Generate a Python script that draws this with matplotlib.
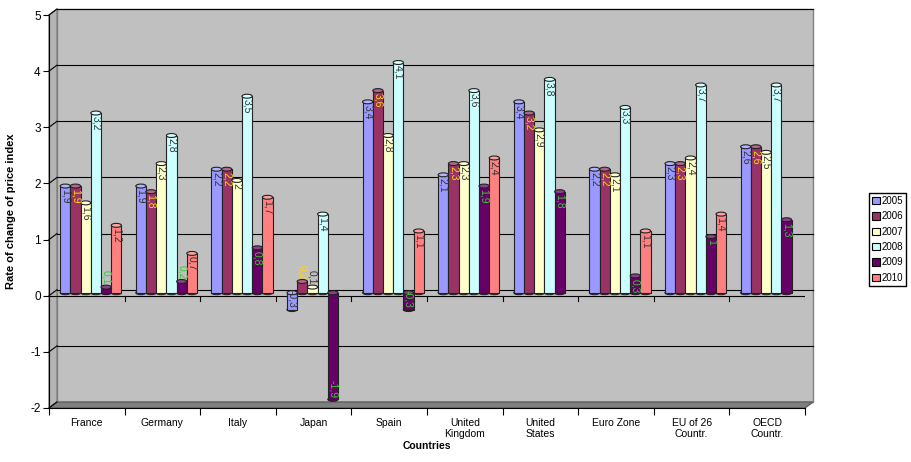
import numpy as np
import matplotlib
matplotlib.use('Agg')
import matplotlib.pyplot as plt
from matplotlib.patches import Polygon, Ellipse, Patch
from matplotlib.transforms import Affine2D, IdentityTransform
import matplotlib.colors as mcolors

plt.rcParams['font.family'] = ['Liberation Sans', 'DejaVu Sans']
plt.rcParams['axes.unicode_minus'] = False

# data
countries = ['France', 'Germany', 'Italy', 'Japan', 'Spain', 'United\nKingdom',
             'United\nStates', 'Euro Zone', 'EU of 26\nCountr.', 'OECD\nCountr.']
years = ['2005', '2006', '2007', '2008', '2009', '2010']
v2005 = [1.9, 1.9, 2.2, -0.3, 3.4, 2.1, 3.4, 2.2, 2.3, 2.6]
v2006 = [1.9, 1.8, 2.2, 0.2, 3.6, 2.3, 3.2, 2.2, 2.3, 2.6]
v2007 = [1.6, 2.3, 2.0, 0.1, 2.8, 2.3, 2.9, 2.1, 2.4, 2.5]
v2008 = [3.2, 2.8, 3.5, 1.4, 4.1, 3.6, 3.8, 3.3, 3.7, 3.7]
v2009 = [0.1, 0.2, 0.8, -1.9, -0.3, 1.9, 1.8, 0.3, 1.0, 1.3]
v2010 = [1.2, 0.7, 1.7, np.nan, 1.1, 2.4, np.nan, 1.1, 1.4, np.nan]
series = [v2005, v2006, v2007, v2008, v2009, v2010]

colors = ['#9999FF', '#993366', '#FFFFCC', '#CCFFFF', '#660066', '#FF8080']
label_colors = ['#333333', '#FFD700', '#333333', '#333333', '#33CC33', '#333333']

W, H = 912, 462
fig = plt.figure(figsize=(W / 100, H / 100), dpi=100)
ax = fig.add_axes([49 / W, 54 / H, 756 / W, 393 / H])
ax.set_xlim(0, 10)
ax.set_ylim(-2, 5)
ax.set_facecolor('none')

# depth offsets (pixels): back wall and bar plane
back = ax.transData + Affine2D().translate(8, 6)
mid = ax.transData + Affine2D().translate(4, 3)


def disp(pts, dx=0, dy=0):
    p = ax.transData.transform(pts)
    return p + np.array([dx, dy])


# walls
back_pts = disp([(0, -2), (10, -2), (10, 5), (0, 5)], 8, 6)
ax.add_patch(Polygon(back_pts, closed=True, transform=IdentityTransform(),
                     facecolor='#C0C0C0', edgecolor='#808080', lw=1, zorder=0, clip_on=False))
fl, fr = disp([(0, -2), (10, -2)])
side = [disp([(0, -2)])[0], disp([(0, 5)])[0], back_pts[3], back_pts[0]]
ax.add_patch(Polygon(side, closed=True, transform=IdentityTransform(),
                     facecolor='#B4B4B4', edgecolor='#808080', lw=1, zorder=0, clip_on=False))
floor = [fl, fr, back_pts[1], back_pts[0]]
ax.add_patch(Polygon(floor, closed=True, transform=IdentityTransform(),
                     facecolor='#7F7F7F', edgecolor='#606060', lw=1, zorder=0.5, clip_on=False))

# gridlines on the back wall + connectors on the side wall
for v in range(-1, 6):
    ax.plot([0, 10], [v, v], color='black', lw=0.8, transform=back, zorder=0.6, clip_on=False)
for v in range(-2, 6):
    a = disp([(0, v)])[0]
    b = disp([(0, v)], 8, 6)[0]
    ax.plot([a[0], b[0]], [a[1], b[1]], color='black', lw=0.8,
            transform=IdentityTransform(), zorder=0.6, clip_on=False)

# zero line on the front with ticks
ax.plot([0, 10], [0, 0], color='black', lw=0.8, zorder=1)
for k in range(11):
    ax.plot([k, k], [0, -0.09], color='black', lw=0.8, zorder=1)

# bars as cylinders
n = len(series)
w = 0.135
cap_h = 0.07
x = np.arange(len(countries)) + 0.5
for i, vals in enumerate(series):
    vals = np.array(vals, dtype=float)
    xs = x + (i - (n - 1) / 2) * w
    c = colors[i]
    light = mcolors.to_rgb(c)
    light = tuple(min(1, 0.75 * ch + 0.25) for ch in light)
    ax.bar(xs, vals, width=w, color=c, edgecolor='#222222', lw=0.8,
           transform=mid, zorder=3, clip_on=False)
    for xi, v in zip(xs, vals):
        if np.isnan(v):
            continue
        lo, hi = min(v, 0), max(v, 0)
        ax.add_patch(Ellipse((xi, lo), w, cap_h, facecolor=c, edgecolor='#222222',
                             lw=0.8, transform=mid, zorder=2.9, clip_on=False))
        ax.add_patch(Ellipse((xi, hi), w, cap_h, facecolor=light, edgecolor='#222222',
                             lw=0.8, transform=mid, zorder=3.1, clip_on=False))
        txt = ('%g' % v).replace('.', ',')
        if v < 0:
            ax.text(xi, v + 0.03, txt, rotation=270, ha='center', va='bottom',
                    fontsize=7.5, color=label_colors[i], transform=mid, zorder=4)
        elif v < 0.25:
            ax.text(xi, v + 0.04, txt, rotation=270, ha='center', va='bottom',
                    fontsize=7.5, color=label_colors[i], transform=mid, zorder=4)
        else:
            ax.text(xi, v - 0.05, txt, rotation=270, ha='center', va='top',
                    fontsize=7.5, color=label_colors[i], transform=mid, zorder=4)

# axes
for s in ['top', 'right']:
    ax.spines[s].set_visible(False)
ax.spines['left'].set_linewidth(0.8)
ax.spines['bottom'].set_linewidth(0.8)
ax.set_yticks(range(-2, 6))
ax.tick_params(axis='y', labelsize=8.5, length=4, width=0.8, pad=2)
ax.set_xticks(range(11))
ax.set_xticklabels([])
ax.set_xticks(x, minor=True)
ax.set_xticklabels(countries, minor=True, fontsize=7.5)
ax.tick_params(axis='x', which='major', length=5, width=0.8)
ax.tick_params(axis='x', which='minor', length=0, pad=7)
ax.set_xlabel('Countries', fontsize=7.5, fontweight='bold', labelpad=1)
ax.set_ylabel('Rate of change of price index', fontsize=8, fontweight='bold', labelpad=10)

handles = [Patch(facecolor=c, edgecolor='black', lw=0.8) for c in colors]
fig.legend(handles, years, loc='upper left', bbox_to_anchor=(869 / W, 1 - 193 / H),
           fontsize=7, handlelength=0.8, handleheight=0.8, labelspacing=0.55,
           borderpad=0.3, handletextpad=0.2, fancybox=False, edgecolor='black',
           framealpha=1, borderaxespad=0)

fig.savefig('out.png', dpi=100)
